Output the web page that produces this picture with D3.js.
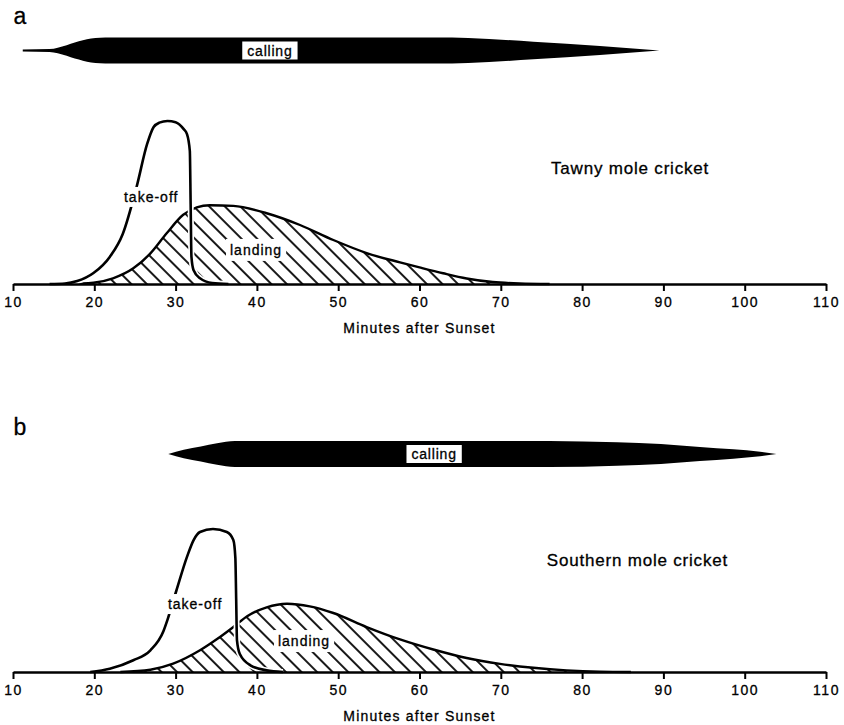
<!DOCTYPE html>
<html>
<head>
<meta charset="utf-8">
<script src="https://cdn.jsdelivr.net/npm/d3@7"></script>
<style>
  body { margin: 0; background: #fff; }
  svg { display: block; font-family: "Liberation Sans", Arial, sans-serif; }
  text { stroke: #000; stroke-width: 0.3px; }
</style>
</head>
<body>
<svg id="chart"></svg>
<script>
const width = 844;
const height = 725;

const tickValues = [10, 20, 30, 40, 50, 60, 70, 80, 90, 100, 110];
const axisTitle = "Minutes after Sunset";

// panel a - Tawny mole cricket
const callingMinA = [11.2, 14.5, 15.5, 16.6, 17.6, 18.6, 19.6, 20.7, 22, 64, 66, 74, 82.2, 89.5];
const callingWidthA = [0.07, 0.11, 0.22, 0.41, 0.62, 0.78, 0.92, 0.98, 1, 1, 0.97, 0.68, 0.35, 0];
const takeoffMinA = [14.5, 16.4, 17.9, 19.9, 21.9, 23.5, 25.2, 26.5, 27.3, 28, 29, 30, 31, 31.4, 31.75, 31.85, 31.95, 32.2, 33, 34.5, 36.5];
const takeoffA = [0, 0.3, 1.8, 6.7, 16.6, 30.7, 59.5, 85.9, 96.3, 99, 100, 99.3, 95, 92, 81.6, 49, 16.6, 8.6, 3.5, 0.6, 0];
const landingMinA = [16.6, 19.9, 22.3, 24.8, 26.9, 28.9, 30.9, 32.6, 34.2, 37.1, 41.2, 45.3, 49.4, 53.5, 57.6, 60, 62.9, 65.8, 69, 72.3, 76];
const landingA = [0, 0.8, 3.5, 9.6, 18.8, 31.1, 42.3, 47, 48.3, 47.9, 43.4, 36.2, 27, 19, 13.3, 10.2, 6.6, 3.4, 1.2, 0.3, 0];

// panel b - Southern mole cricket
const callingMinB = [29.1, 31, 33.1, 35.1, 37.3, 76, 84.3, 89.7, 94.5, 98.6, 101.9, 103.9];
const callingWidthB = [0, 0.32, 0.58, 0.83, 1, 1, 0.9, 0.77, 0.54, 0.36, 0.18, 0];
const takeoffMinB = [19.5, 21.9, 24.8, 26.9, 28.5, 29, 30.1, 31.4, 32.2, 33, 34.6, 36.3, 37.1, 37.35, 37.45, 37.55, 37.9, 39.2, 41.2, 43.2];
const takeoffB = [0, 2, 7.2, 13.3, 25, 32, 50, 70.6, 80.8, 85.9, 87.7, 85.9, 81, 70, 45, 19.4, 11, 4.1, 1, 0];
const landingMinB = [23.2, 26.9, 29.7, 33, 35.1, 37.1, 38.8, 41.2, 43.7, 46.5, 49.4, 53.5, 57.6, 61.7, 65.8, 69.9, 74, 78.1, 82.2, 86];
const landingB = [0, 1.4, 5.1, 13.3, 20.2, 27.6, 34.2, 39.7, 41.9, 40.3, 36.2, 27.6, 20, 13.8, 8.6, 5, 2.6, 1, 0.2, 0];

const svg = d3.select("#chart")
  .attr("width", width)
  .attr("height", height);

// diagonal hatching for the landing curves
svg.append("defs").append("pattern")
  .attr("id", "hatch")
  .attr("patternUnits", "userSpaceOnUse")
  .attr("width", 11)
  .attr("height", 11)
  .attr("patternTransform", "rotate(-45)")
  .append("line")
  .attr("x1", 2).attr("y1", 0)
  .attr("x2", 2).attr("y2", 11)
  .attr("stroke", "#000")
  .attr("stroke-width", 1.8);

const x = d3.scaleLinear().domain([10, 110]).range([13, 826]);

function label(g, px, py, text, size, spacing, padX, padY) {
  const t = g.append("text")
    .attr("x", px).attr("y", py)
    .attr("text-anchor", "middle")
    .attr("dominant-baseline", "central")
    .attr("font-size", size)
    .attr("letter-spacing", spacing)
    .text(text);
  if (padX != null) {
    const b = t.node().getBBox();
    g.insert("rect", () => t.node())
      .attr("x", b.x - padX).attr("y", b.y - padY)
      .attr("width", b.width + 2 * padX).attr("height", b.height + 2 * padY)
      .attr("fill", "#fff");
  }
  return t;
}

function drawPanel(p) {
  const g = svg.append("g");
  const y = d3.scaleLinear().domain([0, 100]).range([p.base, p.base - 163]);
  const w = d3.scaleLinear().domain([0, 1]).range([0, 13]);

  // panel letter
  g.append("text")
    .attr("x", 20).attr("y", p.letterY)
    .attr("text-anchor", "middle")
    .attr("dominant-baseline", "central")
    .attr("font-size", 23)
    .text(p.letter);

  // calling bar
  const calling = d3.zip(p.callingMin, p.callingWidth);
  g.append("path")
    .datum(calling)
    .attr("fill", "#000")
    .attr("d", d3.area()
      .x(d => x(d[0]))
      .y0(d => p.callY - w(d[1]))
      .y1(d => p.callY + w(d[1]))
      .curve(d3.curveMonotoneX));
  label(g, x(p.callLabelMin), p.callY, "calling", 14, 0.8, 5, 1);

  // landing (hatched)
  const landing = d3.zip(p.landingMin, p.landing);
  g.append("path")
    .datum(landing)
    .attr("fill", "url(#hatch)")
    .attr("d", d3.area()
      .x(d => x(d[0]))
      .y0(p.base)
      .y1(d => y(d[1]))
      .curve(d3.curveMonotoneX));
  g.append("path")
    .datum(landing)
    .attr("fill", "none")
    .attr("stroke", "#000")
    .attr("stroke-width", 2.4)
    .attr("d", d3.line()
      .x(d => x(d[0]))
      .y(d => y(d[1]))
      .curve(d3.curveMonotoneX));

  // take-off
  const takeoff = d3.zip(p.takeoffMin, p.takeoff);
  const toLine = d3.line()
    .x(d => x(d[0]))
    .y(d => y(d[1]))
    .curve(d3.curveMonotoneX);
  g.append("path")
    .datum(takeoff)
    .attr("fill", "none")
    .attr("stroke", "#fff")
    .attr("stroke-width", 6)
    .attr("d", toLine);
  g.append("path")
    .datum(takeoff)
    .attr("fill", "none")
    .attr("stroke", "#000")
    .attr("stroke-width", 2.6)
    .attr("d", toLine);

  label(g, x(p.takeoffLabel[0]), y(p.takeoffLabel[1]), "take-off", 14, 1, 3, 2);
  label(g, x(p.landingLabel[0]), y(p.landingLabel[1]), "landing", 14, 1, 4, 3);
  label(g, x(p.speciesLabel[0]), y(p.speciesLabel[1]), p.species, 17, 0.8);

  // axis
  const axis = g.append("g")
    .attr("transform", `translate(0,${p.base})`)
    .call(d3.axisBottom(x)
      .tickValues(tickValues)
      .tickSize(7)
      .tickSizeOuter(0)
      .tickPadding(6)
      .tickFormat(d3.format("d")));
  axis.select(".domain").attr("stroke-width", 2.4);
  axis.selectAll(".tick line").attr("stroke-width", 2);
  axis.selectAll(".tick text")
    .attr("font-size", 14)
    .attr("letter-spacing", 1.5)
    .attr("font-family", "Liberation Sans, Arial, sans-serif")
    .attr("fill", "#000");

  g.append("text")
    .attr("x", x(60)).attr("y", p.base + 44)
    .attr("text-anchor", "middle")
    .attr("dominant-baseline", "central")
    .attr("font-size", 14)
    .attr("letter-spacing", 1.2)
    .text(axisTitle);
}

drawPanel({
  letter: "a", letterY: 16, base: 284, callY: 50.5,
  callingMin: callingMinA, callingWidth: callingWidthA, callLabelMin: 41.6,
  takeoffMin: takeoffMinA, takeoff: takeoffA,
  landingMin: landingMinA, landing: landingA,
  takeoffLabel: [27, 53.4], landingLabel: [39.9, 20.9],
  species: "Tawny mole cricket", speciesLabel: [85.9, 71]
});

drawPanel({
  letter: "b", letterY: 427, base: 672, callY: 454,
  callingMin: callingMinB, callingWidth: callingWidthB, callLabelMin: 61.8,
  takeoffMin: takeoffMinB, takeoff: takeoffB,
  landingMin: landingMinB, landing: landingB,
  takeoffLabel: [32.4, 41.7], landingLabel: [45.8, 19],
  species: "Southern mole cricket", speciesLabel: [86.8, 68.7]
});
</script>
</body>
</html>
